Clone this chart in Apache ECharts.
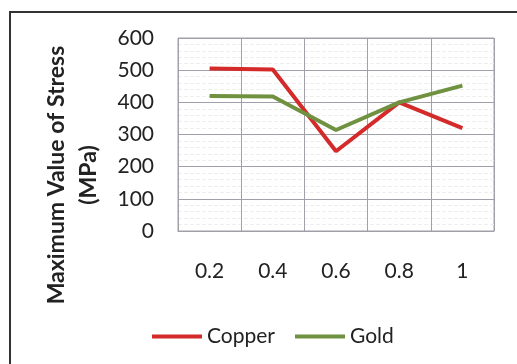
<!DOCTYPE html>
<html>
<head>
<meta charset="utf-8">
<script src="https://cdn.jsdelivr.net/npm/echarts@6/dist/echarts.min.js"></script>
<style>
html,body{margin:0;padding:0;background:#fff;}
#c{width:517px;height:364px;}
</style>
</head>
<body>
<div id="c"></div>
<script>
var categories = ['0.2', '0.4', '0.6', '0.8', '1'];
var copper = [505, 502, 248, 400, 320];
var gold = [420, 418, 314, 400, 452];
var yTicks = [0, 100, 200, 300, 400, 500, 600];
var yTitle = 'Maximum Value of Stress\n(MPa)';

var chart = echarts.init(document.getElementById('c'), null, {renderer: 'canvas'});
var FONT = 'Lato';
chart.setOption({
  animation: false,
  backgroundColor: '#fff',
  graphic: [{
    type: 'rect',
    shape: {x: 10, y: 12, width: 530, height: 380},
    style: {fill: 'none', stroke: '#333', lineWidth: 2},
    silent: true
  }, {
    type: 'text',
    x: 73, y: 175,
    rotation: Math.PI / 2,
    style: {
      text: yTitle,
      fontFamily: FONT, fontSize: 23, fontWeight: 'bold', fill: '#222',
      align: 'center', verticalAlign: 'middle', lineHeight: 32
    },
    silent: true
  }],
  grid: {
    left: 178, right: 23, top: 38, bottom: 133,
    show: true, borderColor: '#a0a0a8', borderWidth: 1
  },
  legend: {
    data: ['Copper', 'Gold'],
    left: 147, top: 321,
    icon: 'rect',
    itemWidth: 50, itemHeight: 4, itemGap: 20,
    textStyle: {fontFamily: FONT, fontSize: 21, color: '#222'}
  },
  xAxis: {
    type: 'category',
    data: categories,
    boundaryGap: true,
    axisTick: {show: false},
    axisLine: {lineStyle: {color: '#a0a0a8'}},
    axisLabel: {margin: 30, fontFamily: FONT, fontSize: 21, color: '#222'},
    splitLine: {show: true, lineStyle: {color: '#a0a0a8', width: 1}}
  },
  yAxis: {
    type: 'value',
    min: yTicks[0], max: yTicks[yTicks.length - 1], interval: 100,
    axisLine: {show: false},
    axisTick: {show: false},
    axisLabel: {margin: 24, fontFamily: FONT, fontSize: 21, color: '#222'},
    splitLine: {show: true, lineStyle: {color: '#a0a0a8', width: 1}},
    minorTick: {show: false, splitNumber: 5},
    minorSplitLine: {show: true, lineStyle: {color: '#eeeeee', width: 1, type: 'dashed'}}
  },
  series: [{
    name: 'Copper', type: 'line', data: copper,
    symbol: 'none',
    lineStyle: {color: '#d42a2a', width: 4},
    itemStyle: {color: '#d42a2a'}
  }, {
    name: 'Gold', type: 'line', data: gold,
    symbol: 'none',
    lineStyle: {color: '#6f9140', width: 4},
    itemStyle: {color: '#6f9140'}
  }]
});
</script>
</body>
</html>
